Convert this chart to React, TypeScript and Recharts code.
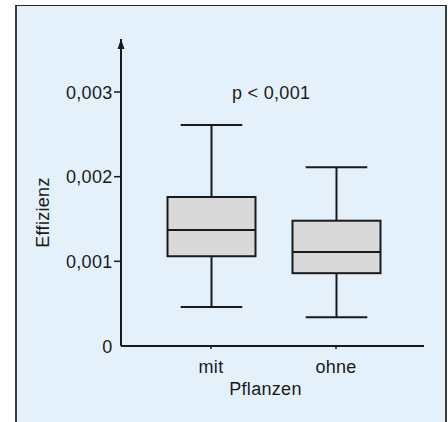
import { ComposedChart, Bar, XAxis, YAxis } from 'recharts';

const categories = ['mit', 'ohne'];
const minValues = [0.00046, 0.00034];
const q1Values = [0.00106, 0.00086];
const medianValues = [0.00137, 0.00111];
const q3Values = [0.00176, 0.00148];
const maxValues = [0.00261, 0.00211];
const yTicks = [0, 0.001, 0.002, 0.003];
const pLabel = 'p < 0,001';
const xTitle = 'Pflanzen';
const yTitle = 'Effizienz';

const data = categories.map((name, i) => ({
  name,
  range: [minValues[i], maxValues[i]],
  q1: q1Values[i],
  median: medianValues[i],
  q3: q3Values[i],
}));

const FONT = '"Liberation Sans", Arial, Helvetica, sans-serif';
const INK = '#1a1a1a';
const textStyle = { fontFamily: FONT, fontSize: 18, letterSpacing: 0.3, fill: INK };

const fmt = (v: number) => (v === 0 ? '0' : v.toFixed(3).replace('.', ','));

// whole box drawn from the [min, max] range rect; quartiles placed along it
function BoxShape(props: any) {
  const { x, y, width, height, payload } = props;
  const [lo, hi] = payload.range;
  const top = Math.min(y, y + height);
  const h = Math.abs(height);
  const py = (v: number) => top + (h * (hi - v)) / (hi - lo);
  const cx = x + width / 2;
  const cap = width * 0.35;
  const yMax = py(hi);
  const yQ3 = py(payload.q3);
  const yMed = py(payload.median);
  const yQ1 = py(payload.q1);
  const yMin = py(lo);
  return (
    <g stroke={INK} strokeWidth={2} fill="none">
      <line x1={cx} x2={cx} y1={yMax} y2={yQ3} />
      <line x1={cx} x2={cx} y1={yQ1} y2={yMin} />
      <line x1={cx - cap} x2={cx + cap} y1={yMax} y2={yMax} />
      <line x1={cx - cap} x2={cx + cap} y1={yMin} y2={yMin} />
      <rect x={x} y={yQ3} width={width} height={yQ1 - yQ3} fill="#d9d9d9" />
      <line x1={x} x2={x + width} y1={yMed} y2={yMed} />
    </g>
  );
}

function YTick({ x, y, payload }: any) {
  return (
    <g>
      {payload.value > 0 && <line x1={x - 7} x2={x} y1={y} y2={y} stroke={INK} strokeWidth={1.5} />}
      <text x={x - 8.5} y={y + 6.5} textAnchor="end" style={textStyle}>
        {fmt(payload.value)}
      </text>
    </g>
  );
}

function XTick({ x, y, payload }: any) {
  return (
    <g>
      <line x1={x} x2={x} y1={y} y2={y + 3} stroke={INK} strokeWidth={1.5} />
      <text x={x} y={y + 27} textAnchor="middle" style={textStyle}>
        {payload.value}
      </text>
    </g>
  );
}

export default function App() {
  return (
    <div style={{ position: 'absolute', left: 0, top: 0, width: 448, height: 422, overflow: 'hidden', background: '#fff' }}>
      <div
        style={{
          position: 'absolute',
          left: 15,
          top: 5,
          width: 428,
          height: 440,
          background: '#e4f1fb',
          borderLeft: '2px solid #3a3a3a',
          borderRight: '2px solid #3a3a3a',
          borderTop: '1.5px solid #2a2a2a',
        }}
      />
      <div style={{ position: 'absolute', left: 0, top: 0 }}>
        <ComposedChart width={448} height={422} data={data} margin={{ top: 39, right: 24, bottom: 0, left: 61 }}>
          <defs>
            <marker id="yArrow" markerUnits="userSpaceOnUse" markerWidth={12} markerHeight={10} refX={0} refY={4} orient="auto" viewBox="0 0 12 8">
              <path d="M0,4 L10,0.5 L10,7.5 Z" fill={INK} />
            </marker>
          </defs>
          <XAxis
            dataKey="name"
            height={76}
            padding={{ left: 27.5, right: 25.5 }}
            axisLine={{ stroke: INK, strokeWidth: 2 }}
            tickLine={false}
            tickSize={0}
            tickMargin={0}
            tick={<XTick />}
            label={{
              value: xTitle,
              content: ({ viewBox }: any) => (
                <text x={viewBox.x + viewBox.width / 2 - 7} y={viewBox.y + 49} textAnchor="middle" style={textStyle}>
                  {xTitle}
                </text>
              ),
            }}
          />
          <YAxis
            width={60}
            domain={[0, 0.003626]}
            ticks={yTicks}
            axisLine={{ stroke: INK, strokeWidth: 2, markerStart: 'url(#yArrow)' }}
            tickLine={false}
            tickSize={0}
            tickMargin={0}
            tick={<YTick />}
            label={{
              value: yTitle,
              content: ({ viewBox }: any) => {
                const lx = viewBox.x - 12.5;
                const ly = viewBox.y + viewBox.height / 2 + 20;
                return (
                  <text x={lx} y={ly} textAnchor="middle" transform={`rotate(-90, ${lx}, ${ly})`} style={textStyle}>
                    {yTitle}
                  </text>
                );
              },
            }}
          />
          <Bar dataKey="range" barSize={88} shape={<BoxShape />} isAnimationActive={false} />
          <text x={232} y={99} style={textStyle}>
            {pLabel}
          </text>
        </ComposedChart>
      </div>
    </div>
  );
}
